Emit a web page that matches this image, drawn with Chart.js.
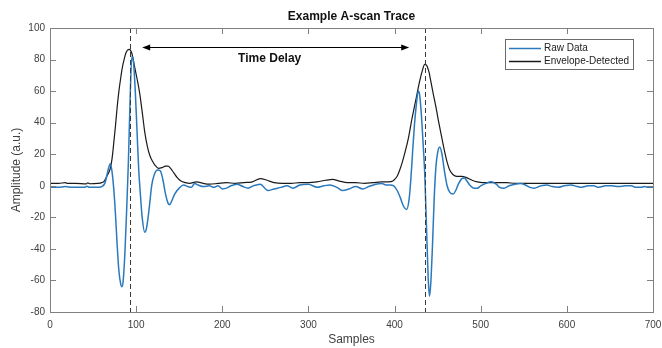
<!DOCTYPE html>
<html>
<head>
<meta charset="utf-8">
<script src="https://cdn.jsdelivr.net/npm/chart.js@4.4.1/dist/chart.umd.min.js"></script>
<style>
html,body{margin:0;padding:0;background:#fff;}
#wrap{width:662px;height:348px;}
</style>
</head>
<body>
<div id="wrap"><canvas id="c" width="662" height="348"></canvas></div>
<script>
// ---- data ----
const chartTitle = "Example A-scan Trace";
const xTitle = "Samples";
const yTitle = "Amplitude (a.u.)";
const seriesNames = ["Raw Data", "Envelope-Detected"];
const annotationText = "Time Delay";

const rawX = [0,10,18,25,40,43,46,55,60,64,67,70,72,74,76,78,80,82,83.5,85,87,89,91,93,95,97,99,101,103,105,107,110,112,115,118,121,125,128,131,134,137,139,141,145,150,155,160,164,168,172,178,185,190,195,200,205,210,217,224,230,236,244,253,260,268,275,282,290,300,310,318,325,333,340,347,355,363,370,378,385,390,395,399,403,407,410,414,417,419,421,423,425,427.5,429,431,433,435,437,439,440.5,442,444,446,448,450,452.5,455,458,461,464,468,471,474,478,481,484,488,492,496,500,506,512,518,522,527,533,540,546,552,557,562,570,577,583,590,597,605,612,617,625,631,637,645,652,660,668,675,680,686,690,695,700];
const rawY = [-1,-1,-0.5,-1,-1,-0.3,-1,-1,-0.5,2,9,14,9,-2,-18,-38,-54,-62,-64,-60,-42,-15,15,55,82,78,60,35,10,-6,-20,-29.5,-27,-15,0,7,10,9.5,4,-5,-11,-12,-10,-5,-1.5,0.5,-0.5,-1,1.5,0.5,-0.5,0,-1,0,-2,-1.5,0,1,-0.5,-1.5,0,1,-3,-2,-1,0,-1.5,0.5,1,-1,0,0.5,-1,-3,-2,-0.5,-2,-0.5,1,1.5,0.5,0.5,0,-3,-8,-12.5,-15,-8,5,22,38,50,60,58,46,28,8,-25,-58,-70,-62,-38,-8,12,21,24.5,20,9,0,-4,-5.2,-3,1,4.5,5,3,0,-1.5,-1.5,0,1.5,2.5,1,-1,-1.5,0,1,1.5,0.5,-1,-1.5,0,0.5,-0.5,-1,0,0.5,-0.5,-1,0,0,-1,0,0,-0.5,0,0,-1,-1,-0.5,-1,-1];

const envX = [0,10,18,20,30,42,44,46,55,60,63,66,70,72,74,76,78,80,82,84,86,88,90,92,95,98,101,104,107,110,113,116,119,122,126,130,134,137,140,144,148,152,157,162,170,178,185,195,205,215,225,235,244,252,260,270,280,290,300,310,320,328,336,345,355,365,375,385,393,398,400,403,406,409,412,416,420,423,426,429,432,435,437,440,442,445,448,451,455,458,461,464,468,472,478,484,490,496,502,510,520,530,540,550,560,570,580,590,600,610,620,630,640,650,660,670,680,690,700];
const envY = [1.5,1.5,2,1.5,1.5,1.2,1.8,1.3,1.5,2,3,6,11,17,27,38,50,60,68,75,80,84,86,86.5,84,76,68,59,47,34,25,19,15.5,13,11,11.5,12.5,12.5,11,8,5,3,2,1.5,2.5,1.5,1,1.5,2,1.5,2,2.5,4.5,3.5,2,1.5,1.5,2,2,2.5,3.5,4,3,2,2,1.5,2,2.5,2.5,3,4,6,10,15,21,30,42,50,58,66,72.5,77,76.5,72,66.5,58,50,41,30,22,15,10,7,6,6,5,3.5,2.5,2,2,2,2,1.5,1.5,1.5,1.5,1.5,1.5,1.5,1.5,1.5,1.5,1.5,1.5,1.5,1.5,1.5,1.5,1.5,1.5];

const markerX = [92.5, 435];          // dashed vertical lines
const arrowFromX = 107, arrowToX = 417, arrowY = 88;
const labelX = 255, labelY = 80.5;

const xMin = 0, xMax = 700, xStep = 100;
const yMin = -80, yMax = 100, yStep = 20;

// ---- styles ----
const BLUE = '#2a79bd';
const BLACK = '#1a1a1a';
const AXIS = '#808080';
const TXT = '#404040';
const FONT = '"Liberation Sans", Arial, Helvetica, sans-serif';

function pts(xs, ys){ return xs.map((x,i)=>({x:x, y:ys[i]})); }

const decor = {
  id: 'decor',
  afterDatasetsDraw(chart){
    const ctx = chart.ctx, a = chart.chartArea;
    const xs = chart.scales.x, ys = chart.scales.y;
    ctx.save();
    // dashed markers
    ctx.strokeStyle = '#3a3a3a'; ctx.lineWidth = 1; ctx.setLineDash([5,3]);
    markerX.forEach(v=>{
      const px = Math.round(xs.getPixelForValue(v))+0.5;
      ctx.beginPath(); ctx.moveTo(px, a.top); ctx.lineTo(px, a.bottom); ctx.stroke();
    });
    ctx.setLineDash([]);
    // box
    ctx.strokeStyle = AXIS; ctx.lineWidth = 1;
    ctx.strokeRect(Math.round(a.left)+0.5, Math.round(a.top)+0.5, Math.round(a.right-a.left), Math.round(a.bottom-a.top));
    // inward ticks
    const tl = 6;
    ctx.beginPath();
    xs.ticks.forEach(t=>{
      const px = Math.round(xs.getPixelForValue(t.value))+0.5;
      ctx.moveTo(px, a.bottom); ctx.lineTo(px, a.bottom-tl);
      ctx.moveTo(px, a.top); ctx.lineTo(px, a.top+tl);
    });
    ys.ticks.forEach(t=>{
      const py = Math.round(ys.getPixelForValue(t.value))+0.5;
      ctx.moveTo(a.left, py); ctx.lineTo(a.left+tl, py);
      ctx.moveTo(a.right, py); ctx.lineTo(a.right-tl, py);
    });
    ctx.stroke();
    // arrow
    const ay = Math.round(ys.getPixelForValue(arrowY))+0.5;
    const ax1 = xs.getPixelForValue(arrowFromX), ax2 = xs.getPixelForValue(arrowToX);
    ctx.strokeStyle = '#000'; ctx.fillStyle = '#000'; ctx.lineWidth = 1;
    ctx.beginPath(); ctx.moveTo(ax1+5, ay); ctx.lineTo(ax2-5, ay); ctx.stroke();
    ctx.beginPath(); ctx.moveTo(ax1, ay); ctx.lineTo(ax1+8, ay-3); ctx.lineTo(ax1+8, ay+3); ctx.closePath(); ctx.fill();
    ctx.beginPath(); ctx.moveTo(ax2, ay); ctx.lineTo(ax2-8, ay-3); ctx.lineTo(ax2-8, ay+3); ctx.closePath(); ctx.fill();
    // annotation label
    ctx.font = 'bold 12px ' + FONT; ctx.textAlign = 'center'; ctx.textBaseline = 'middle';
    ctx.fillStyle = '#111';
    ctx.fillText(annotationText, xs.getPixelForValue(labelX), ys.getPixelForValue(labelY));
    // title
    ctx.fillText(chartTitle, (a.left+a.right)/2, 17);
    // axis titles
    ctx.font = '12px ' + FONT; ctx.fillStyle = TXT;
    ctx.fillText(xTitle, (a.left+a.right)/2, 340);
    ctx.save(); ctx.translate(17, (a.top+a.bottom)/2); ctx.rotate(-Math.PI/2);
    ctx.fillText(yTitle, 0, 0); ctx.restore();
    // legend
    const lx = 505, ly = 39, lw = 128, lh = 30;
    ctx.fillStyle = '#fff'; ctx.fillRect(lx, ly, lw, lh);
    ctx.strokeStyle = '#6a6a6a'; ctx.strokeRect(lx+0.5, ly+0.5, lw, lh);
    const items = [[seriesNames[0], BLUE, 48.5],[seriesNames[1], BLACK, 61.5]];
    ctx.font = '10px ' + FONT; ctx.textAlign = 'left';
    items.forEach(([name,col,yy])=>{
      ctx.strokeStyle = col; ctx.lineWidth = 1.5;
      ctx.beginPath(); ctx.moveTo(509, yy); ctx.lineTo(541, yy); ctx.stroke();
      ctx.fillStyle = '#222'; ctx.fillText(name, 544, yy);
    });
    ctx.restore();
  }
};

new Chart(document.getElementById('c'), {
  type: 'line',
  data: {
    datasets: [
      { label: seriesNames[0], data: pts(rawX, rawY), borderColor: BLUE, borderWidth: 1.5,
        pointRadius: 0, cubicInterpolationMode: 'monotone', fill: false },
      { label: seriesNames[1], data: pts(envX, envY), borderColor: BLACK, borderWidth: 1.2,
        pointRadius: 0, cubicInterpolationMode: 'monotone', fill: false }
    ]
  },
  options: {
    responsive: false, animation: false, devicePixelRatio: 1,
    layout: { padding: { left: 0, right: 9, top: 28, bottom: 0 } },
    plugins: { legend: { display: false }, title: { display: false }, tooltip: { enabled: false } },
    scales: {
      x: { type: 'linear', min: xMin, max: xMax,
        grid: { display: false, drawTicks: false }, border: { display: false },
        ticks: { stepSize: xStep, padding: 7, color: TXT, font: { family: FONT, size: 10 }, maxRotation: 0 },
        afterFit(s){ s.height = 36; s.paddingLeft = 0; s.paddingRight = 0; } },
      y: { type: 'linear', min: yMin, max: yMax,
        grid: { display: false, drawTicks: false }, border: { display: false },
        ticks: { stepSize: yStep, padding: 5, color: TXT, font: { family: FONT, size: 10 } },
        afterFit(s){ s.width = 50; s.paddingTop = 0; s.paddingBottom = 0; } }
    }
  },
  plugins: [decor]
});
</script>
</body>
</html>
